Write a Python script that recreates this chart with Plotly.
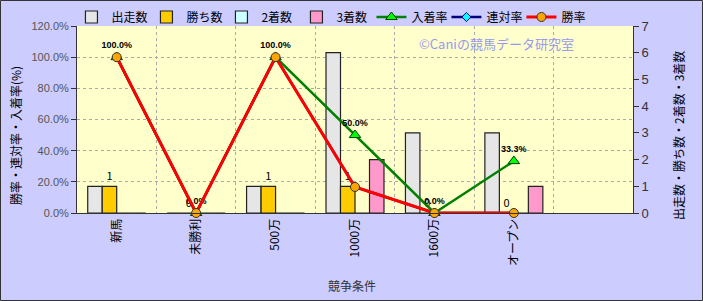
import plotly.graph_objects as go

# ---- data ----
categories = ["新馬", "未勝利", "500万", "1000万", "1600万", "オープン", ""]
starts = [1, 0, 1, 6, 3, 3, None]
wins = [1, 0, 1, 1, 0, 0, None]
seconds = [0, 0, 0, 0, 0, 0, None]
thirds = [0, 0, 0, 2, 0, 1, None]
place_rate = [1.0, 0.0, 1.0, 0.5, 0.0, 0.333, None]
rentai_rate = [1.0, 0.0, 1.0, 0.167, 0.0, 0.0, None]
win_rate = [1.0, 0.0, 1.0, 0.167, 0.0, 0.0, None]
place_labels = ["100.0%", "0.0%", "100.0%", "50.0%", "0.0%", "33.3%", ""]
win_labels = ["1", "0", "1", "1", "0", "0", ""]
left_ticks = [0, 0.2, 0.4, 0.6, 0.8, 1.0, 1.2]
left_tick_text = ["0.0%", "20.0%", "40.0%", "60.0%", "80.0%", "100.0%", "120.0%"]
right_ticks = [0, 1, 2, 3, 4, 5, 6, 7]

FONT = "Noto Sans CJK JP"
x = list(range(len(categories)))

fig = go.Figure()

bar_specs = [
    ("出走数", starts, "#E6E6E6", None),
    ("勝ち数", wins, "#FFCC00", win_labels),
    ("2着数", seconds, "#CCFFFF", None),
    ("3着数", thirds, "#FF99CC", None),
]
for name, vals, color, labels in bar_specs:
    fig.add_trace(go.Bar(
        x=x, y=vals, name=name, yaxis="y",
        marker=dict(color=color, line=dict(color="#222222", width=1.2)),
        text=labels, textposition="outside" if labels else "none",
        textfont=dict(family=FONT, size=11, color="#000000"),
        cliponaxis=False,
    ))

fig.add_trace(go.Scatter(
    x=x, y=place_rate, name="入着率", yaxis="y2", mode="lines+markers+text",
    line=dict(color="#008000", width=2.5),
    marker=dict(symbol="triangle-up", size=10, color="#00FF00", line=dict(color="#004000", width=1)),
    text=["<b>%s</b>" % t for t in place_labels], textposition="top center",
    textfont=dict(family="Liberation Sans", size=9, color="#000000"),
    cliponaxis=False,
))
fig.add_trace(go.Scatter(
    x=x, y=rentai_rate, name="連対率", yaxis="y2", mode="lines+markers",
    line=dict(color="#000080", width=2.5),
    marker=dict(symbol="diamond", size=7, color="#00FFFF", line=dict(color="#000080", width=1)),
    cliponaxis=False,
))
fig.add_trace(go.Scatter(
    x=x, y=win_rate, name="勝率", yaxis="y2", mode="lines+markers",
    line=dict(color="#FF0000", width=3),
    marker=dict(symbol="circle", size=9, color="#FFA500", line=dict(color="#333333", width=1)),
    cliponaxis=False,
))

W, H = 703, 301
L, R, T, B = 77, 70, 26, 88
pw, ph = W - L - R, H - T - B

fig.update_layout(
    width=W, height=H,
    margin=dict(l=L, r=R, t=T, b=B, pad=0, autoexpand=False),
    paper_bgcolor="#CCCCFF", plot_bgcolor="#FFFFCC",
    barmode="group", bargap=0.27, bargroupgap=0,
    font=dict(family=FONT, size=12, color="#000000"),
    showlegend=True,
    legend=dict(orientation="h", x=-0.01, xanchor="left", y=(ph + 9) / ph, yanchor="middle",
                bgcolor="rgba(0,0,0,0)", font=dict(family=FONT, size=12, color="#000000"),
                itemwidth=30, entrywidth=30, traceorder="normal", tracegroupgap=0),
    xaxis=dict(
        range=[-0.5, len(categories) - 0.5], tickmode="array", tickvals=x, ticktext=categories,
        tickangle=-90, showgrid=False, showline=True, linecolor="#333333", linewidth=1,
        ticks="", tickfont=dict(family=FONT, size=12, color="#000000"), zeroline=False,
        minor=dict(tickmode="array", tickvals=[i + 0.5 for i in x[:-1]], showgrid=True,
                   gridcolor="#AAAAAA", griddash="dot", gridwidth=1, ticks=""),
    ),
    yaxis=dict(
        side="right", range=[0, 7], tickmode="array", tickvals=right_ticks,
        showgrid=False, zeroline=False, showline=True, linecolor="#333333", linewidth=1,
        ticks="outside", ticklen=5, tickcolor="#333333",
        tickfont=dict(family="Liberation Sans", size=13, color="#333333"),
    ),
    yaxis2=dict(
        side="left", overlaying="y", range=[0, 1.2], tickmode="array",
        tickvals=left_ticks, ticktext=left_tick_text,
        showgrid=True, gridcolor="#AAAAAA", griddash="dot", gridwidth=1,
        zeroline=False, showline=True, linecolor="#333333", linewidth=1,
        ticks="outside", ticklen=5, tickcolor="#333333",
        tickfont=dict(family="Liberation Sans", size=11, color="#555555"),
    ),
    annotations=[
        dict(text="勝率・連対率・入着率(%)", xref="paper", yref="paper",
             x=(15 - L) / pw, y=(H - B - 136) / ph, textangle=-90, showarrow=False,
             font=dict(family=FONT, size=12, color="#000000"), xanchor="center", yanchor="middle"),
        dict(text="出走数・勝ち数・2着数・3着数", xref="paper", yref="paper",
             x=(678 - L) / pw, y=(H - B - 136) / ph, textangle=-90, showarrow=False,
             font=dict(family=FONT, size=12, color="#000000"), xanchor="center", yanchor="middle"),
        dict(text="競争条件", xref="paper", yref="paper",
             x=(352 - L) / pw, y=(H - B - 285) / ph, showarrow=False,
             font=dict(family=FONT, size=12, color="#333333"), xanchor="center", yanchor="middle"),
        dict(text="©Caniの競馬データ研究室", xref="paper", yref="paper",
             x=(496 - L) / pw, y=(H - B - 43) / ph, showarrow=False,
             font=dict(family=FONT, size=13, color="#9999EE"), xanchor="center", yanchor="middle"),
    ],
    shapes=[
        dict(type="rect", xref="paper", yref="paper",
             x0=(0.5 - L) / pw, x1=(W - 0.5 - L) / pw,
             y0=-(B - 0.5) / ph, y1=(H - B - 0.5) / ph,
             line=dict(color="#333333", width=1), fillcolor="rgba(0,0,0,0)", layer="above"),
    ],
)

fig.write_html("out.html")
